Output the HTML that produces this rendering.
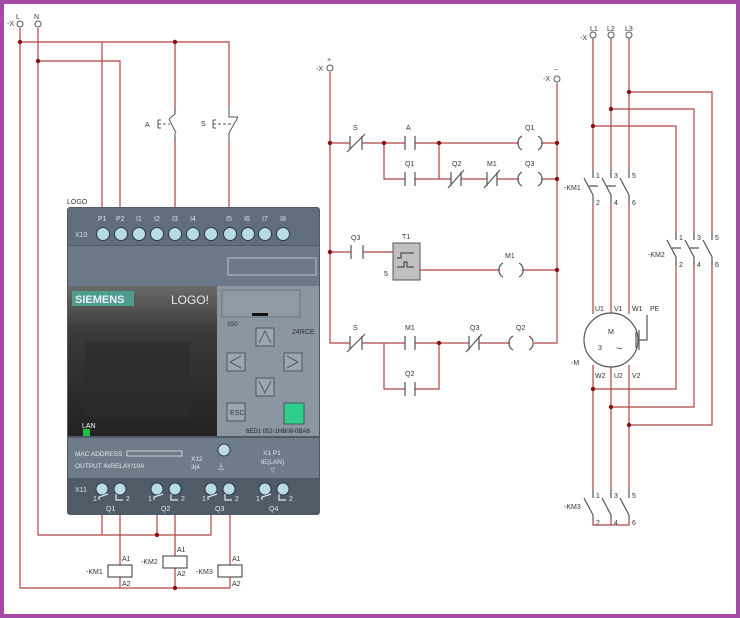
<!DOCTYPE html>
<html><head><meta charset="utf-8"><style>
html,body{margin:0;padding:0;background:#fff}
svg{display:block}
text{font-family:"Liberation Sans",sans-serif}
</style></head><body>
<svg width="740" height="618" viewBox="0 0 740 618" xmlns="http://www.w3.org/2000/svg">
<rect x="0" y="0" width="740" height="618" fill="#a24ca6"/>
<rect x="4" y="4" width="732" height="610" fill="#fff"/>

<!-- LEFT WIRING -->
<g fill="none" stroke="#b04444" stroke-width="1.2">
<path d="M20 28V588H230V577"/>
<path d="M38 28V535H211V515"/>
<path d="M20 42H229V107"/>
<path d="M229 142V207"/>
<path d="M175 42V114"/>
<path d="M175 137V207"/>
<path d="M38 61H120V207"/>
<path d="M102 42V207"/>
<path d="M102 515V535"/>
<path d="M157 515V535"/>
<path d="M120 515V565"/>
<path d="M175 515V556"/>
<path d="M230 515V565"/>
<path d="M120 577V588"/>
<path d="M175 568V588"/>
</g>
<g fill="#8b1010">
<circle cx="20" cy="42" r="2.2"/><circle cx="175" cy="42" r="2.2"/><circle cx="38" cy="61" r="2.2"/>
<circle cx="157" cy="535" r="2.2"/><circle cx="175" cy="588" r="2.2"/>
</g>
<g fill="#fff" stroke="#555" stroke-width="1"><circle cx="20" cy="24" r="3"/><circle cx="38" cy="24" r="3"/></g>
<g font-size="7" fill="#333"><text x="16" y="19">L</text><text x="34" y="19">N</text><text x="7" y="26">-X</text></g>
<!-- push buttons -->
<g stroke="#555" stroke-width="1" fill="none">
<path d="M175 107V114M175 114L169 119M169 119L176 133M175 133V142"/>
<path d="M158 120V128M158 120H161M158 128H161"/>
<path d="M158 124H170" stroke-dasharray="3 2"/>
<path d="M229 107V117H238M238 117L229 133V142"/>
<path d="M213 120V128M213 120H216M213 128H216"/>
<path d="M213 124H233" stroke-dasharray="3 2"/>
</g>
<g font-size="7" fill="#333"><text x="145" y="127">A</text><text x="201" y="126">S</text></g>

<!-- LOGO device -->
<text x="67" y="204" font-size="7" fill="#333">LOGO</text>
<rect x="67" y="207" width="253" height="308" rx="3" fill="#4e5a66"/>
<rect x="68" y="208" width="251" height="37" fill="#5f6d7c"/>
<rect x="68" y="246" width="251" height="40" fill="#6b7988"/>
<rect x="228" y="258" width="88" height="17" fill="none" stroke="#b8c2cc" stroke-width="1"/>
<g font-size="7" fill="#dde3e8">
<text x="98" y="221">P1</text><text x="116" y="221">P2</text><text x="136" y="221">I1</text><text x="154" y="221">I2</text><text x="172" y="221">I3</text><text x="190" y="221">I4</text><text x="226" y="221">I5</text><text x="244" y="221">I6</text><text x="262" y="221">I7</text><text x="280" y="221">I8</text>
<text x="75" y="237">X10</text>
</g>
<g fill="#b9dbe4" stroke="#2e3a44" stroke-width="1">
<circle cx="103" cy="234" r="6.5"/><circle cx="121" cy="234" r="6.5"/><circle cx="139" cy="234" r="6.5"/><circle cx="157" cy="234" r="6.5"/><circle cx="175" cy="234" r="6.5"/><circle cx="193" cy="234" r="6.5"/><circle cx="211" cy="234" r="6.5"/><circle cx="230" cy="234" r="6.5"/><circle cx="248" cy="234" r="6.5"/><circle cx="265" cy="234" r="6.5"/><circle cx="283" cy="234" r="6.5"/>
</g>
<!-- screen -->
<defs><linearGradient id="sg" x1="0" y1="0" x2="0" y2="1"><stop offset="0" stop-color="#6a6a6a"/><stop offset="0.3" stop-color="#3a3a3a"/><stop offset="1" stop-color="#222"/></linearGradient></defs>
<rect x="68" y="286" width="149" height="150" fill="url(#sg)"/>
<rect x="85" y="342" width="105" height="75" fill="#2c2c2c" opacity="0.7"/>
<rect x="72" y="291" width="62" height="15" fill="#4d9d8c"/>
<text x="75" y="303" font-size="11" font-weight="bold" fill="#eef">SIEMENS</text>
<text x="171" y="304" font-size="12" fill="#e8e8e8">LOGO!</text>
<text x="82" y="428" font-size="7" fill="#fff">LAN</text>
<rect x="83" y="429" width="7" height="7" fill="#22c040"/>
<!-- right panel -->
<rect x="217" y="286" width="102" height="150" fill="#8a96a2"/>
<rect x="222" y="290" width="78" height="27" fill="#8e9aa6" stroke="#6a7682"/>
<rect x="252" y="313" width="16" height="3" fill="#111"/>
<text x="227" y="326" font-size="6" fill="#333">X50</text>
<text x="292" y="334" font-size="7" fill="#333">24RCE</text>
<g fill="#9aa7b3" stroke="#4a5560" stroke-width="1">
<rect x="256" y="328" width="18" height="18"/><rect x="227" y="353" width="18" height="18"/><rect x="284" y="353" width="18" height="18"/><rect x="256" y="378" width="18" height="18"/><rect x="227" y="403" width="18" height="18"/>
</g>
<rect x="284" y="403" width="20" height="21" fill="#2ecf8a" stroke="#4a5560"/>
<g fill="none" stroke="#505a64"><path d="M259 343L265 331L271 343"/><path d="M241 356L230 362L241 368"/><path d="M287 356L298 362L287 368"/><path d="M259 381L265 393L271 381"/></g>
<text x="230" y="415" font-size="7" fill="#333">ESC</text>
<text x="246" y="433" font-size="6" fill="#222">6ED1 052-1HB08-0BA8</text>
<!-- lower label -->
<rect x="68" y="438" width="251" height="40" fill="#6e7c8a"/>
<g font-size="6.5" fill="#e3e8ec">
<text x="75" y="456">MAC ADDRESS</text><text x="75" y="468">OUTPUT 4xRELAY/10A</text>
<text x="191" y="461">X12</text><text x="191" y="469">3|4</text>
<text x="263" y="455">X1 P1</text><text x="261" y="464">IE(LAN)</text><text x="270" y="472">▽</text>
</g>
<rect x="127" y="451" width="55" height="5" fill="none" stroke="#e3e8ec" stroke-width="0.8"/>
<circle cx="224" cy="450" r="6" fill="#b9dbe4" stroke="#2e3a44"/>
<text x="217" y="470" font-size="8" fill="#e3e8ec">⏃</text>
<rect x="68" y="479" width="251" height="35" fill="#4f5b67"/>
<text x="75" y="492" font-size="7" fill="#e3e8ec">X11</text>
<g fill="#b9dbe4" stroke="#2e3a44" stroke-width="1">
<circle cx="102" cy="489" r="6"/><circle cx="120" cy="489" r="6"/><circle cx="157" cy="489" r="6"/><circle cx="175" cy="489" r="6"/><circle cx="211" cy="489" r="6"/><circle cx="229" cy="489" r="6"/><circle cx="265" cy="489" r="6"/><circle cx="283" cy="489" r="6"/>
</g>
<g font-size="7" fill="#e3e8ec">
<text x="93" y="501">1</text><text x="126" y="501">2</text><text x="106" y="511">Q1</text>
<text x="148" y="501">1</text><text x="181" y="501">2</text><text x="161" y="511">Q2</text>
<text x="202" y="501">1</text><text x="235" y="501">2</text><text x="215" y="511">Q3</text>
<text x="256" y="501">1</text><text x="289" y="501">2</text><text x="269" y="511">Q4</text>
</g>
<g fill="none" stroke="#e3e8ec" stroke-width="1.2">
<path d="M99 500V497L108 494M116 494V500H123"/><path d="M154 500V497L163 494M171 494V500H178"/><path d="M208 500V497L217 494M225 494V500H232"/><path d="M262 500V497L271 494M279 494V500H286"/>
</g>
<!-- coils -->
<g fill="#fff" stroke="#333" stroke-width="1"><rect x="108" y="565" width="24" height="12"/><rect x="163" y="556" width="24" height="12"/><rect x="218" y="565" width="24" height="12"/></g>
<g font-size="7" fill="#333">
<text x="122" y="561">A1</text><text x="122" y="586">A2</text><text x="86" y="574">-KM1</text>
<text x="177" y="552">A1</text><text x="177" y="576">A2</text><text x="141" y="564">-KM2</text>
<text x="232" y="561">A1</text><text x="232" y="586">A2</text><text x="196" y="574">-KM3</text>
</g>

<!-- LADDER -->
<g fill="none" stroke="#b04444" stroke-width="1.2">
<path d="M330 72V343H350"/>
<path d="M557 83V343H534"/>
<path d="M330 143H350M362 143H405M415 143H519M541 143H557"/>
<path d="M384 143V179H405M415 179H451M461 179H487M497 179H519M541 179H557M439 143V179"/>
<path d="M330 252H351M363 252H393M420 270H500M522 270H557"/>
<path d="M362 343H405M415 343H469M479 343H510"/>
<path d="M384 343V389H405M415 389H439V343"/>
</g>
<g fill="#8b1010">
<circle cx="330" cy="143" r="2.2"/><circle cx="384" cy="143" r="2.2"/><circle cx="439" cy="143" r="2.2"/><circle cx="557" cy="143" r="2.2"/><circle cx="557" cy="179" r="2.2"/><circle cx="330" cy="252" r="2.2"/><circle cx="557" cy="270" r="2.2"/><circle cx="439" cy="343" r="2.2"/>
</g>
<g stroke="#555" stroke-width="1.2" fill="none">
<path d="M350 136V150M362 136V150M347 152L365 134"/>
<path d="M405 136V150M415 136V150"/>
<path d="M405 172V186M415 172V186"/>
<path d="M451 172V186M461 172V186M448 188L464 170"/>
<path d="M487 172V186M497 172V186M484 188L500 170"/>
<path d="M351 245V259M363 245V259"/>
<path d="M350 336V350M362 336V350M347 352L365 334"/>
<path d="M405 336V350M415 336V350"/>
<path d="M469 336V350M479 336V350M466 352L482 334"/>
<path d="M405 382V396M415 382V396"/>
<path d="M522 136A8 8 0 0 0 522 150M538 136A8 8 0 0 1 538 150"/>
<path d="M522 172A8 8 0 0 0 522 186M538 172A8 8 0 0 1 538 186"/>
<path d="M503 263A8 8 0 0 0 503 277M519 263A8 8 0 0 1 519 277"/>
<path d="M513 336A8 8 0 0 0 513 350M529 336A8 8 0 0 1 529 350"/>
</g>
<rect x="393" y="243" width="27" height="37" fill="#c0c0c0" stroke="#555"/>
<path d="M397 258H401V253H414M397 267H404V262H407V267H414" fill="none" stroke="#333"/>
<g fill="#fff" stroke="#555"><circle cx="330" cy="68" r="3"/><circle cx="557" cy="79" r="3"/></g>
<g font-size="7" fill="#333">
<text x="327" y="62">+</text><text x="316" y="71">-X</text><text x="554" y="72">−</text><text x="543" y="81">-X</text>
<text x="353" y="130">S</text><text x="406" y="130">A</text><text x="525" y="130">Q1</text>
<text x="405" y="166">Q1</text><text x="452" y="166">Q2</text><text x="487" y="166">M1</text><text x="525" y="166">Q3</text>
<text x="351" y="240">Q3</text><text x="402" y="239">T1</text><text x="384" y="276">5</text><text x="505" y="258">M1</text>
<text x="353" y="330">S</text><text x="405" y="330">M1</text><text x="470" y="330">Q3</text><text x="516" y="330">Q2</text>
<text x="405" y="376">Q2</text>
</g>

<!-- MOTOR CIRCUIT -->
<g fill="none" stroke="#b04444" stroke-width="1.2">
<path d="M593 38V170M611 38V170M629 38V170"/>
<path d="M629 92H712V232M611 109H694V232M593 126H676V232"/>
<path d="M593 203V314M611 203V314M629 203V314"/>
<path d="M676 262V389H593M694 262V407H611M712 262V425H629"/>
<path d="M593 365V490M611 366V490M629 365V490"/>
<path d="M593 520V525H629V520M611 520V525"/>
</g>
<g fill="#8b1010">
<circle cx="629" cy="92" r="2.2"/><circle cx="611" cy="109" r="2.2"/><circle cx="593" cy="126" r="2.2"/>
<circle cx="593" cy="389" r="2.2"/><circle cx="611" cy="407" r="2.2"/><circle cx="629" cy="425" r="2.2"/>
</g>
<g fill="#fff" stroke="#555"><circle cx="593" cy="35" r="3"/><circle cx="611" cy="35" r="3"/><circle cx="629" cy="35" r="3"/></g>
<g stroke="#555" stroke-width="1.2" fill="none">
<path d="M593 170V178M584 178L593 195V203M611 170V178M602 178L611 195V203M629 170V178M620 178L629 195V203M589 186H598M607 186H616"/>
<path d="M676 232V240M667 240L676 257V265M694 232V240M685 240L694 257V265M712 232V240M703 240L712 257V265M672 248H681M690 248H699"/>
<path d="M593 490V498M584 498L593 515V520M611 490V498M602 498L611 515V520M629 490V498M620 498L629 515V520"/>
<circle cx="611" cy="340" r="27" fill="#fff"/>
<path d="M639 330V350M636 332V348M639 340H647V315"/>
</g>
<g font-size="7" fill="#333">
<text x="590" y="31">L1</text><text x="607" y="31">L2</text><text x="625" y="31">L3</text><text x="580" y="40">-X</text>
<text x="596" y="178">1</text><text x="614" y="178">3</text><text x="632" y="178">5</text>
<text x="596" y="205">2</text><text x="614" y="205">4</text><text x="632" y="205">6</text>
<text x="564" y="190">-KM1</text>
<text x="679" y="240">1</text><text x="697" y="240">3</text><text x="715" y="240">5</text>
<text x="679" y="267">2</text><text x="697" y="267">4</text><text x="715" y="267">6</text>
<text x="648" y="257">-KM2</text>
<text x="596" y="498">1</text><text x="614" y="498">3</text><text x="632" y="498">5</text>
<text x="596" y="525">2</text><text x="614" y="525">4</text><text x="632" y="525">6</text>
<text x="564" y="509">-KM3</text>
<text x="595" y="311">U1</text><text x="614" y="311">V1</text><text x="632" y="311">W1</text><text x="650" y="311">PE</text>
<text x="595" y="378">W2</text><text x="614" y="378">U2</text><text x="632" y="378">V2</text>
<text x="608" y="334">M</text><text x="598" y="350">3</text><text x="616" y="352" font-size="11">~</text>
<text x="571" y="365">-M</text>
</g>
</svg>
</body></html>
